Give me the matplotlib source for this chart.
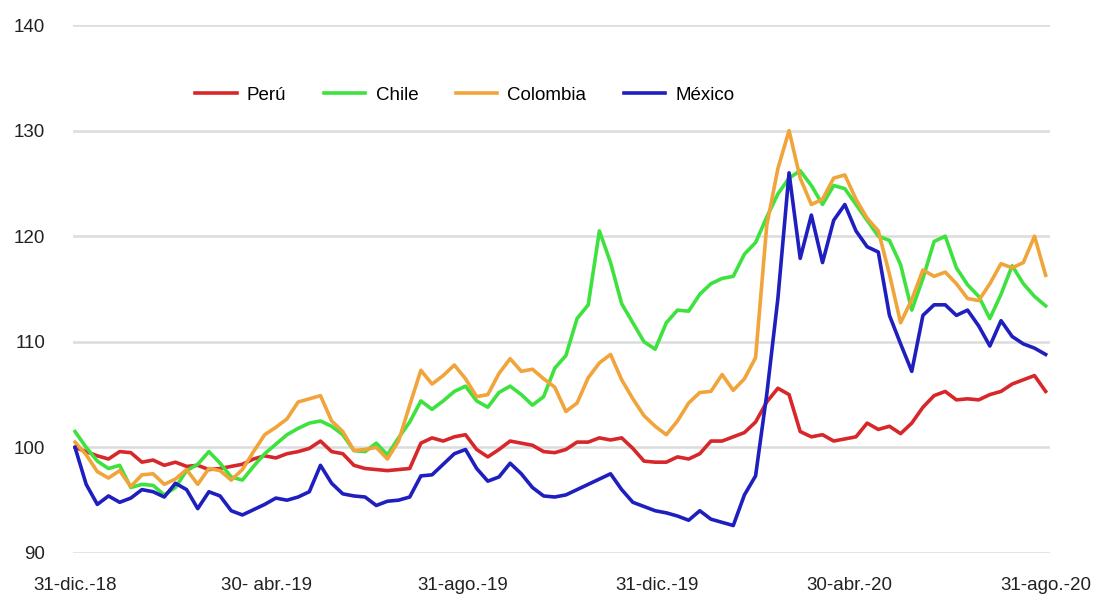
import matplotlib
matplotlib.use("Agg")
import matplotlib.pyplot as plt
import pandas as pd

plt.rcParams['font.family'] = ['Liberation Sans', 'DejaVu Sans']

# weekly observations, 31-dic-2018 .. 31-ago-2020
dates = pd.date_range('2018-12-31', periods=88, freq='7D')

peru = [100.0, 99.6, 99.2, 98.9, 99.6, 99.5, 98.6, 98.8, 98.3, 98.6,
        98.2, 98.3, 97.9, 98.0, 98.2, 98.4, 98.9, 99.2, 99.0, 99.4,
        99.6, 99.9, 100.6, 99.6, 99.4, 98.3, 98.0, 97.9, 97.8, 97.9,
        98.0, 100.4, 100.9, 100.6, 101.0, 101.2, 99.8, 99.1, 99.8, 100.6,
        100.4, 100.2, 99.6, 99.5, 99.8, 100.5, 100.5, 100.9, 100.7, 100.9,
        99.9, 98.7, 98.6, 98.6, 99.1, 98.9, 99.4, 100.6, 100.6, 101.0,
        101.4, 102.4, 104.3, 105.6, 105.0, 101.5, 101.0, 101.2, 100.6, 100.8,
        101.0, 102.3, 101.7, 102.0, 101.3, 102.3, 103.8, 104.9, 105.3, 104.5,
        104.6, 104.5, 105.0, 105.3, 106.0, 106.4, 106.8, 105.3]

chile = [101.5, 100.0, 98.7, 98.0, 98.3, 96.2, 96.5, 96.4, 95.5, 96.2,
         97.8, 98.4, 99.6, 98.5, 97.2, 96.9, 98.2, 99.4, 100.3, 101.2,
         101.8, 102.3, 102.5, 102.0, 101.2, 99.7, 99.6, 100.4, 99.3, 100.9,
         102.4, 104.4, 103.6, 104.4, 105.3, 105.8, 104.4, 103.8, 105.2, 105.8,
         105.0, 104.0, 104.8, 107.5, 108.7, 112.2, 113.5, 120.5, 117.5, 113.6,
         111.8, 110.0, 109.3, 111.8, 113.0, 112.9, 114.5, 115.5, 116.0, 116.2,
         118.3, 119.4, 121.8, 124.0, 125.5, 126.2, 124.8, 123.0, 124.8, 124.5,
         123.0, 121.5, 120.0, 119.6, 117.3, 113.0, 116.0, 119.5, 120.0, 117.0,
         115.4, 114.3, 112.2, 114.5, 117.2, 115.5, 114.3, 113.4]

colombia = [100.5, 99.3, 97.7, 97.1, 97.8, 96.3, 97.4, 97.5, 96.5, 97.0,
            97.9, 96.5, 98.0, 97.8, 96.9, 97.9, 99.6, 101.2, 101.9, 102.7,
            104.3, 104.6, 104.9, 102.5, 101.5, 99.7, 99.8, 100.0, 98.9, 100.6,
            104.0, 107.3, 106.0, 106.8, 107.8, 106.5, 104.8, 105.0, 107.0, 108.4,
            107.2, 107.4, 106.5, 105.7, 103.4, 104.2, 106.6, 108.0, 108.8, 106.4,
            104.6, 103.0, 102.0, 101.2, 102.5, 104.2, 105.2, 105.3, 106.9, 105.4,
            106.5, 108.5, 121.0, 126.4, 130.0, 125.5, 123.0, 123.5, 125.5, 125.8,
            123.5, 121.7, 120.5, 116.4, 111.8, 114.0, 116.8, 116.2, 116.6, 115.5,
            114.1, 113.9, 115.5, 117.4, 117.0, 117.5, 120.0, 116.3]

mexico = [100.0, 96.5, 94.6, 95.4, 94.8, 95.2, 96.0, 95.8, 95.3, 96.6,
          96.0, 94.2, 95.8, 95.4, 94.0, 93.6, 94.1, 94.6, 95.2, 95.0,
          95.3, 95.8, 98.3, 96.6, 95.6, 95.4, 95.3, 94.5, 94.9, 95.0,
          95.3, 97.3, 97.4, 98.4, 99.4, 99.8, 98.0, 96.8, 97.2, 98.5,
          97.5, 96.2, 95.4, 95.3, 95.5, 96.0, 96.5, 97.0, 97.5, 96.0,
          94.8, 94.4, 94.0, 93.8, 93.5, 93.1, 94.0, 93.2, 92.9, 92.6,
          95.5, 97.3, 105.0, 114.1, 126.0, 117.9, 122.0, 117.5, 121.5, 123.0,
          120.5, 119.0, 118.5, 112.5, 109.8, 107.2, 112.5, 113.5, 113.5, 112.5,
          113.0, 111.5, 109.6, 112.0, 110.5, 109.8, 109.4, 108.8]

series = [("Perú", peru, '#d8272b'),
          ("Chile", chile, '#3ee23e'),
          ("Colombia", colombia, '#f0a43a'),
          ("México", mexico, '#1f1fc0')]

tick_dates = pd.to_datetime(['2018-12-31', '2019-04-30', '2019-08-31',
                             '2019-12-31', '2020-04-30', '2020-08-31'])
tick_labels = ['31-dic.-18', '30- abr.-19', '31-ago.-19',
               '31-dic.-19', '30-abr.-20', '31-ago.-20']

fig = plt.figure(figsize=(11.02, 6.01), dpi=100)
ax = fig.add_axes([0.0662, 0.0799, 0.887, 0.8785])

for name, vals, col in series:
    ax.plot(dates, vals, color=col, lw=2.6, label=name, solid_joinstyle='round')

ax.set_ylim(90, 140)
ax.set_yticks(range(90, 141, 10))
ax.set_xlim(dates[0] - pd.Timedelta(days=1.3), dates[-1] + pd.Timedelta(days=3))
ax.set_xticks(tick_dates)
ax.set_xticklabels(tick_labels)

ax.grid(axis='y', color='#dcdcdc', lw=1.8)
ax.set_axisbelow(True)
for s in ax.spines.values():
    s.set_visible(False)
ax.tick_params(axis='both', length=0, labelsize=13.5, colors='#222222')
ax.tick_params(axis='y', pad=20)
ax.tick_params(axis='x', pad=17)

ax.legend(loc='center', bbox_to_anchor=(0.401, 0.867), ncol=4, frameon=False,
          fontsize=13.5, handlelength=2.2, handletextpad=0.55, columnspacing=2.0)

fig.savefig('out.png', dpi=100)
